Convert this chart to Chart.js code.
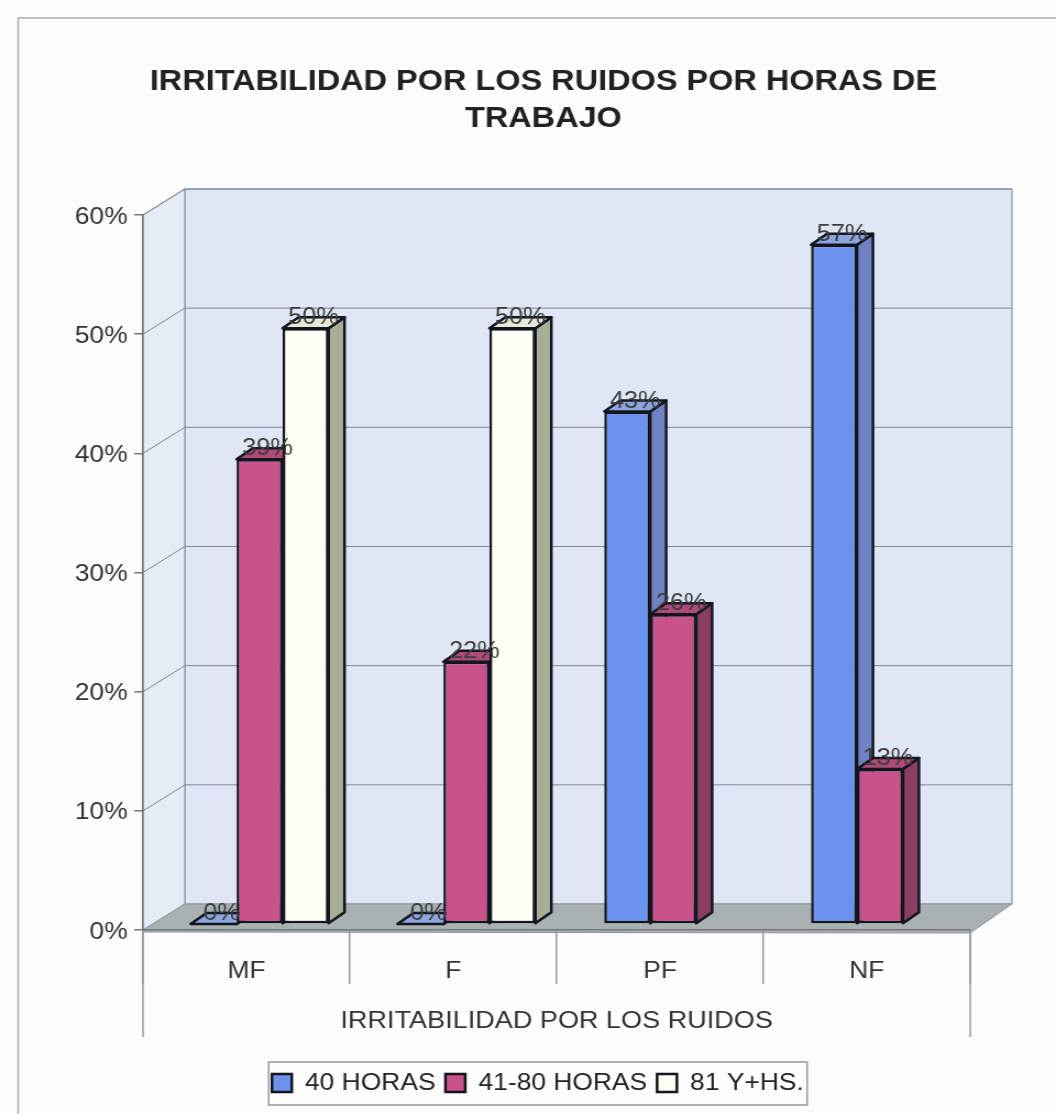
<!DOCTYPE html>
<html>
<head>
<meta charset="utf-8">
<title>Irritabilidad por los ruidos</title>
<script src="https://cdn.jsdelivr.net/npm/chart.js@4/dist/chart.umd.js"></script>
<style>
  html, body { margin: 0; padding: 0; background: #fdfdfd; overflow: hidden; }
  /* the original image is stretched sideways, text included */
  #chart { display: block; transform: scaleX(1.1); transform-origin: 0 0; }
</style>
</head>
<body>
<canvas id="chart" width="960" height="1114"></canvas>
<script>
const categories = ['MF', 'F', 'PF', 'NF'];
const horas40 = [0, 0, 43, 57];
const horas41a80 = [39, 22, 26, 13];
const horas81 = [50, 50, null, null];
const yTicks = [0, 10, 20, 30, 40, 50, 60];

const TEXT = '#333';
const FONT = 'Liberation Sans';
const EDGE = '#14161f';
const backX = 38, backY = -26;    // wall offset from the front plane
const barX = 12, barY = -6;       // bars stand a bit inside the floor
const depthX = 14.5, depthY = -11;

const faces = [
  { side: '#6f83c4', top: '#8ca5de' },
  { side: '#8a3f60', top: '#ad4a78' },
  { side: '#a8ad98', top: '#e9e9da' }
];

function poly(ctx, pts, fill, stroke) {
  ctx.beginPath();
  pts.forEach((p, i) => i ? ctx.lineTo(p[0], p[1]) : ctx.moveTo(p[0], p[1]));
  ctx.closePath();
  if (fill) { ctx.fillStyle = fill; ctx.fill(); }
  if (stroke) { ctx.strokeStyle = stroke; ctx.stroke(); }
}

const scene = {
  id: 'scene',
  afterLayout(chart) {
    // title sits a little right of the legend centre
    chart.titleBlock.left += 5;
    chart.titleBlock.right += 5;
  },
  beforeDraw(chart) {
    const { ctx, scales: { x, y } } = chart;
    const l = x.left, r = x.right, y0 = y.getPixelForValue(0), yTop = y.getPixelForValue(60);
    ctx.save();
    // page frame
    ctx.strokeStyle = '#aaa';
    ctx.lineWidth = 1.5;
    ctx.beginPath();
    ctx.moveTo(16.5, 1114); ctx.lineTo(16.5, 18); ctx.lineTo(960, 18);
    ctx.stroke();
    // walls and floor
    ctx.lineWidth = 1;
    poly(ctx, [[l + backX, yTop + backY], [r + backX, yTop + backY], [r + backX, y0 + backY], [l + backX, y0 + backY]], '#dfe6f5', '#7f878e');
    poly(ctx, [[l, yTop], [l + backX, yTop + backY], [l + backX, y0 + backY], [l, y0]], '#e6ecf6', '#7f878e');
    poly(ctx, [[l, y0], [l + backX, y0 + backY], [r + backX, y0 + backY], [r, y0 + 3], [l, y0 + 2]], '#a9b1b3', '#8d959c');
    // gridlines on both walls
    ctx.strokeStyle = '#7f878e';
    yTicks.forEach(v => {
      if (!v) return;
      const py = y.getPixelForValue(v);
      ctx.beginPath();
      ctx.moveTo(l, py); ctx.lineTo(l + backX, py + backY); ctx.lineTo(r + backX, py + backY);
      ctx.stroke();
    });
    // the two outer separators go further down than the category ticks
    ctx.strokeStyle = '#999';
    ctx.lineWidth = 1.5;
    [l, r].forEach(px => {
      ctx.beginPath(); ctx.moveTo(px, y0); ctx.lineTo(px, 1037); ctx.stroke();
    });
    ctx.restore();
  },
  // Chart.js paints the first dataset last; here the later bars must cover the earlier ones
  beforeDatasetsDraw(chart) {
    const ctx = chart.ctx;
    ctx.save();
    ctx.translate(barX, barY);
    chart.data.datasets.forEach((ds, d) => {
      const meta = chart.getDatasetMeta(d);
      const f = faces[d];
      ctx.lineWidth = 2.5;
      ctx.lineJoin = 'round';
      meta.data.forEach((bar, i) => {
        if (ds.data[i] == null) return;
        const { x, y, base, width } = bar.getProps(['x', 'y', 'base', 'width'], true);
        const a = x - width / 2, b = x + width / 2;
        poly(ctx, [[b, y], [b + depthX, y + depthY], [b + depthX, base + depthY], [b, base]], f.side, EDGE);
        poly(ctx, [[a, y], [a + depthX, y + depthY], [b + depthX, y + depthY], [b, y]], f.top, EDGE);
      });
      meta.controller.draw();
    });
    // value labels
    ctx.font = '23px "' + FONT + '"';
    ctx.fillStyle = '#3c3c3c';
    ctx.textAlign = 'center';
    ctx.textBaseline = 'alphabetic';
    chart.data.datasets.forEach((ds, d) => {
      chart.getDatasetMeta(d).data.forEach((bar, i) => {
        if (ds.data[i] == null) return;
        const { x, y } = bar.getProps(['x', 'y'], true);
        ctx.fillText(ds.data[i] + '%', x + depthX / 2, y - 4);
      });
    });
    ctx.restore();
    return false;
  },
  afterDraw(chart) {
    // box round the legend
    const boxes = chart.legend.legendHitBoxes;
    const a = Math.min(...boxes.map(h => h.left)) - 3;
    const b = Math.max(...boxes.map(h => h.left + h.width)) + 3;
    const ctx = chart.ctx;
    ctx.save();
    ctx.strokeStyle = '#999';
    ctx.lineWidth = 1.5;
    ctx.strokeRect(a, chart.legend.top, b - a, chart.legend.height);
    ctx.restore();
  }
};

new Chart(document.getElementById('chart'), {
  type: 'bar',
  plugins: [scene],
  data: {
    labels: categories,
    datasets: [
      { label: '40 HORAS', data: horas40, backgroundColor: '#6b93ee' },
      { label: '41-80 HORAS', data: horas41a80, backgroundColor: '#c9528a' },
      { label: '81 Y+HS.', data: horas81, backgroundColor: '#fffff3' }
    ]
  },
  options: {
    responsive: false,
    animation: false,
    layout: { padding: { left: 18, right: 0, top: 0, bottom: 9 } },
    datasets: {
      bar: {
        categoryPercentage: 0.667,
        barPercentage: 1,
        borderColor: EDGE,
        borderWidth: 2.5,
        borderSkipped: false
      }
    },
    plugins: {
      tooltip: { enabled: false },
      title: {
        display: true,
        text: ['IRRITABILIDAD POR LOS RUIDOS POR HORAS DE', 'TRABAJO'],
        color: '#222',
        font: { family: FONT, size: 29.5, weight: 'bold', lineHeight: 1.254 },
        padding: { top: 63, bottom: 78 }
      },
      legend: {
        position: 'bottom',
        labels: {
          color: '#222',
          font: { family: FONT, size: 24 },
          boxWidth: 18,
          boxHeight: 18,
          padding: 9
        }
      }
    },
    scales: {
      x: {
        offset: true,
        afterFit: s => { s.height = 132; },
        grid: { offset: true, drawOnChartArea: false, tickLength: 54, color: '#999', lineWidth: 1.5 },
        border: { color: '#777', width: 1.5 },
        ticks: {
          color: TEXT, padding: -27, maxRotation: 0, autoSkip: false,
          font: { family: FONT, size: 24 }
        },
        title: {
          display: true,
          text: 'IRRITABILIDAD POR LOS RUIDOS',
          color: TEXT,
          font: { family: FONT, size: 24.6 },
          padding: { top: 0, bottom: 26 }
        }
      },
      y: {
        min: 0,
        max: 60,
        afterFit: s => { s.width = 112; },
        afterBuildTicks: s => { s.ticks = yTicks.map(value => ({ value })); },
        grid: { drawOnChartArea: false, tickLength: 8, color: '#777', lineWidth: 1.5 },
        border: { color: '#777', width: 1.5 },
        ticks: {
          color: TEXT, padding: 6, labelOffset: 2,
          font: { family: FONT, size: 24 },
          callback: v => v + '%'
        }
      },
      // empty axis, only keeps the plot clear of the right margin
      spacer: {
        position: 'right',
        min: 0,
        max: 1,
        afterFit: s => { s.width = 78; },
        grid: { display: false },
        border: { display: false },
        ticks: { display: false }
      }
    }
  }
});
</script>
</body>
</html>
